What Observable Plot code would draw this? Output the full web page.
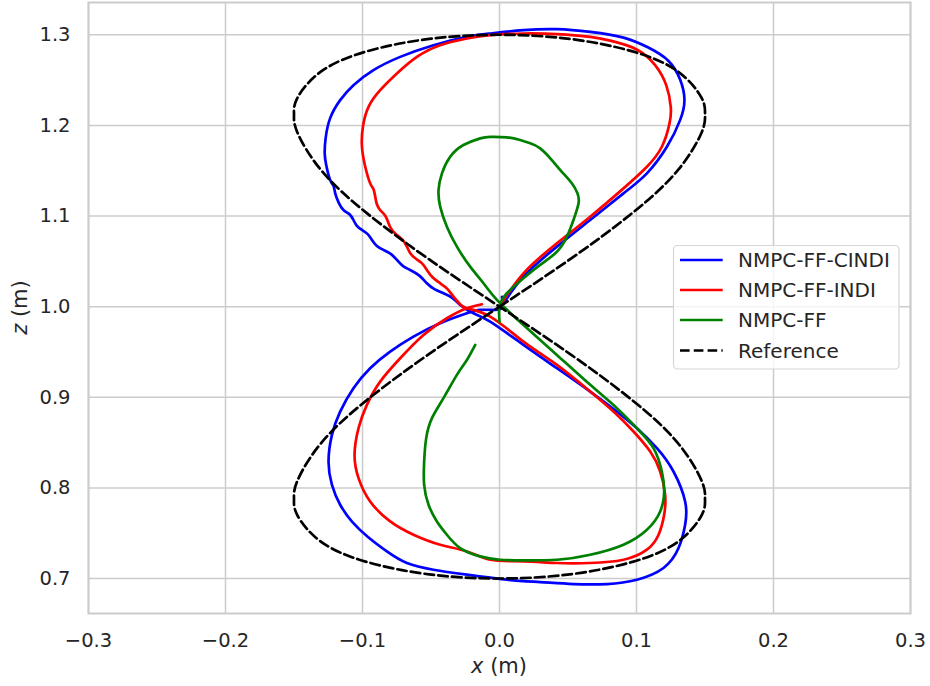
<!DOCTYPE html>
<html><head><meta charset="utf-8">
<script src="https://cdn.jsdelivr.net/npm/d3@7"></script>
<script src="https://cdn.jsdelivr.net/npm/@observablehq/plot@0.6"></script>
<style>
body{margin:0;background:#fff}
#chart{position:relative;width:930px;height:686px}
</style>
</head><body><div id="chart"></div>
<script>
const seriesNames = ["NMPC-FF-CINDI", "NMPC-FF-INDI", "NMPC-FF", "Reference"];
const seriesColors = ["#0000ff", "#ff0000", "#008000", "#000000"];
const xTicks = [-0.3, -0.2, -0.1, 0.0, 0.1, 0.2, 0.3];
const yTicks = [0.7, 0.8, 0.9, 1.0, 1.1, 1.2, 1.3];

const cindiX = [0.0015,0.0175,0.0419,0.0662,0.0905,0.1076,0.1222,0.1319,0.1350,0.1319,0.1232,0.1086,0.0905,0.0662,0.0419,0.0175,-0.0068,-0.0238,-0.0482,-0.0725,-0.0920,-0.1066,-0.1163,-0.1236,-0.1269,-0.1276,-0.1265,-0.1236,-0.1212,-0.1199,-0.1174,-0.1139,-0.1096,-0.1066,-0.1041,-0.1004,-0.0962,-0.0931,-0.0895,-0.0847,-0.0792,-0.0749,-0.0706,-0.0652,-0.0585,-0.0530,-0.0475,-0.0409,-0.0342,-0.0287,-0.0190,-0.0068,0.0175,0.0419,0.0662,0.0857,0.1003,0.1149,0.1270,0.1355,0.1355,0.1307,0.1197,0.1003,0.0784,0.0540,0.0297,0.0054,-0.0238,-0.0482,-0.0676,-0.0822,-0.0958,-0.1075,-0.1163,-0.1223,-0.1248,-0.1223,-0.1163,-0.1066,-0.0944,-0.0798,-0.0628,-0.0433,-0.0238,-0.0141,-0.0044,0.0018,0.0018];
const cindiZ = [1.0000,1.0331,1.0662,1.0956,1.1250,1.1471,1.1764,1.2061,1.2282,1.2503,1.2714,1.2859,1.2969,1.3032,1.3062,1.3051,1.3014,1.2977,1.2885,1.2756,1.2610,1.2444,1.2279,1.2080,1.1860,1.1695,1.1563,1.1397,1.1334,1.1250,1.1148,1.1066,1.1021,1.0956,1.0891,1.0846,1.0800,1.0736,1.0670,1.0626,1.0580,1.0515,1.0450,1.0405,1.0342,1.0258,1.0193,1.0148,1.0094,1.0019,0.9927,0.9835,0.9578,0.9321,0.9063,0.8842,0.8659,0.8439,0.8181,0.7850,0.7593,0.7336,0.7116,0.6987,0.6939,0.6939,0.6961,0.6987,0.7042,0.7097,0.7171,0.7299,0.7455,0.7625,0.7814,0.8034,0.8291,0.8585,0.8842,0.9100,0.9321,0.9504,0.9669,0.9817,0.9927,0.9964,0.9964,0.9986,1.0107];

const indiX = [0.0000,0.0175,0.0419,0.0662,0.0905,0.1076,0.1185,0.1241,0.1250,0.1217,0.1136,0.0998,0.0808,0.0662,0.0419,0.0175,-0.0068,-0.0238,-0.0433,-0.0603,-0.0749,-0.0871,-0.0956,-0.0997,-0.1004,-0.0980,-0.0944,-0.0920,-0.0907,-0.0895,-0.0871,-0.0834,-0.0810,-0.0785,-0.0749,-0.0707,-0.0676,-0.0651,-0.0615,-0.0567,-0.0530,-0.0487,-0.0433,-0.0379,-0.0336,-0.0293,-0.0238,-0.0068,0.0175,0.0419,0.0662,0.0832,0.0978,0.1100,0.1173,0.1209,0.1202,0.1161,0.1076,0.0905,0.0662,0.0419,0.0175,-0.0068,-0.0238,-0.0433,-0.0628,-0.0798,-0.0944,-0.1029,-0.1058,-0.1029,-0.0968,-0.0871,-0.0725,-0.0555,-0.0384,-0.0238,-0.0128];
const indiZ = [1.0000,1.0368,1.0699,1.0992,1.1305,1.1544,1.1764,1.2022,1.2205,1.2444,1.2665,1.2841,1.2935,1.2977,1.3007,1.3014,1.2996,1.2959,1.2885,1.2756,1.2573,1.2389,1.2205,1.1985,1.1764,1.1544,1.1361,1.1297,1.1213,1.1130,1.1066,1.1003,1.0920,1.0845,1.0791,1.0736,1.0662,1.0588,1.0534,1.0480,1.0405,1.0321,1.0258,1.0194,1.0110,1.0036,0.9982,0.9890,0.9614,0.9357,0.9063,0.8842,0.8622,0.8401,0.8181,0.7924,0.7703,0.7483,0.7318,0.7207,0.7171,0.7171,0.7189,0.7207,0.7299,0.7373,0.7483,0.7630,0.7850,0.8108,0.8365,0.8659,0.8916,0.9173,0.9431,0.9688,0.9872,0.9982,1.0026];

const ffX = [0.0000,0.0000,0.0054,0.0175,0.0297,0.0419,0.0492,0.0540,0.0577,0.0569,0.0528,0.0455,0.0382,0.0297,0.0224,0.0151,0.0054,-0.0068,-0.0141,-0.0263,-0.0360,-0.0420,-0.0445,-0.0433,-0.0384,-0.0311,-0.0214,-0.0117,-0.0019,0.0175,0.0419,0.0662,0.0857,0.1003,0.1124,0.1185,0.1202,0.1173,0.1076,0.0905,0.0662,0.0419,0.0175,0.0005,-0.0141,-0.0287,-0.0384,-0.0457,-0.0518,-0.0550,-0.0550,-0.0535,-0.0493,-0.0409,-0.0311,-0.0238,-0.0177];
const ffZ = [0.9835,1.0000,1.0148,1.0313,1.0460,1.0606,1.0772,1.0956,1.1140,1.1250,1.1361,1.1488,1.1617,1.1746,1.1802,1.1838,1.1868,1.1874,1.1857,1.1783,1.1654,1.1471,1.1287,1.1103,1.0882,1.0662,1.0441,1.0258,1.0074,0.9798,0.9467,0.9137,0.8880,0.8659,0.8439,0.8181,0.7960,0.7740,0.7538,0.7373,0.7262,0.7207,0.7200,0.7207,0.7244,0.7336,0.7483,0.7630,0.7814,0.8034,0.8291,0.8549,0.8770,0.8990,0.9247,0.9412,0.9578];

const refX = [0,0.0513,0.0964,0.1299,0.1477,0.15,0.1477,0.1299,0.0964,0.0513,0,-0.0513,-0.0964,-0.1299,-0.1477,-0.15,-0.1477,-0.1299,-0.0964,-0.0513,0,0.0513,0.0964,0.1299,0.1477,0.15,0.1477,0.1299,0.0964,0.0513,0,-0.0513,-0.0964,-0.1299,-0.1477,-0.15,-0.1477,-0.1299,-0.0964,-0.0513,0];
const refZ = [1,1.0521,1.1026,1.15,1.1928,1.2121,1.2298,1.2598,1.2819,1.2954,1.3,1.2954,1.2819,1.2598,1.2298,1.2121,1.1928,1.15,1.1026,1.0521,1,0.9479,0.8974,0.85,0.8072,0.7879,0.7702,0.7402,0.7181,0.7046,0.7,0.7046,0.7181,0.7402,0.7702,0.7879,0.8072,0.85,0.8974,0.9479,1];

const allX = [cindiX, indiX, ffX, refX];
const allZ = [cindiZ, indiZ, ffZ, refZ];
const rows = seriesNames.flatMap((s, i) => allX[i].map((x, j) => ({series: s, x, z: allZ[i][j]})));
const solid = rows.filter(d => d.series !== "Reference");
const ref = rows.filter(d => d.series === "Reference");

const fmt = d3.format(".1f");
const W = 930, H = 686, ML = 88, MR = 20, MT = 2, MB = 73;
const LW = 2.7, DASH = "9.6,4.2";

const chart = Plot.plot({
  width: W, height: H,
  marginLeft: ML, marginRight: MR, marginTop: MT, marginBottom: MB,
  style: {fontFamily: "DejaVu Sans", fontSize: "19.5px", color: "#262626", background: "#ffffff", overflow: "visible"},
  x: {domain: [-0.3, 0.3], ticks: xTicks, tickFormat: fmt, tickSize: 0, tickPadding: 20, label: null},
  y: {domain: [0.6614, 1.3356], ticks: yTicks, tickFormat: fmt, tickSize: 0, tickPadding: 18, label: null},
  color: {domain: seriesNames, range: seriesColors},
  marks: [
    Plot.ruleX(xTicks, {stroke: "#cccccc", strokeWidth: 1.5}),
    Plot.ruleY(yTicks, {stroke: "#cccccc", strokeWidth: 1.5}),
    Plot.frame({stroke: "#cccccc", strokeWidth: 2}),
    Plot.line(solid, {x: "x", y: "z", z: "series", stroke: "series", strokeWidth: LW, curve: "natural"}),
    Plot.line(ref, {x: "x", y: "z", stroke: "series", strokeWidth: LW, strokeDasharray: DASH, curve: "natural"})
  ]
});
document.getElementById("chart").appendChild(chart);

const svg = d3.select(chart);
// axis labels
const xl = svg.append("text").attr("x", ML + (W - ML - MR) / 2).attr("y", 673)
  .attr("text-anchor", "middle").attr("fill", "#262626").style("font-size", "21px").style("font-family", "DejaVu Sans");
xl.append("tspan").style("font-style", "italic").text("x");
xl.append("tspan").text(" (m)");
const yl = svg.append("text").attr("transform", `translate(27,${MT + (H - MT - MB) / 2}) rotate(-90)`)
  .attr("text-anchor", "middle").attr("fill", "#262626").style("font-size", "21px").style("font-family", "DejaVu Sans");
yl.append("tspan").style("font-style", "italic").text("z");
yl.append("tspan").text(" (m)");

// legend
const lg = svg.append("g");
lg.append("rect").attr("x", 673.5).attr("y", 245.5).attr("width", 225.5).attr("height", 123.5)
  .attr("rx", 4).attr("fill", "#ffffff").attr("fill-opacity", 0.8).attr("stroke", "#d6d6d6").attr("stroke-width", 1.2);
const rowY = [260, 290, 320, 350.5];
seriesNames.forEach((s, i) => {
  lg.append("line").attr("x1", 680).attr("x2", 722.7).attr("y1", rowY[i]).attr("y2", rowY[i])
    .attr("stroke", seriesColors[i]).attr("stroke-width", LW)
    .attr("stroke-dasharray", s === "Reference" ? DASH : null);
  lg.append("text").attr("x", 738).attr("y", rowY[i]).attr("dy", "0.36em").attr("text-anchor", "start")
    .attr("fill", "#262626").style("font-size", "20px").style("font-family", "DejaVu Sans").text(s);
});
</script>
</body></html>
